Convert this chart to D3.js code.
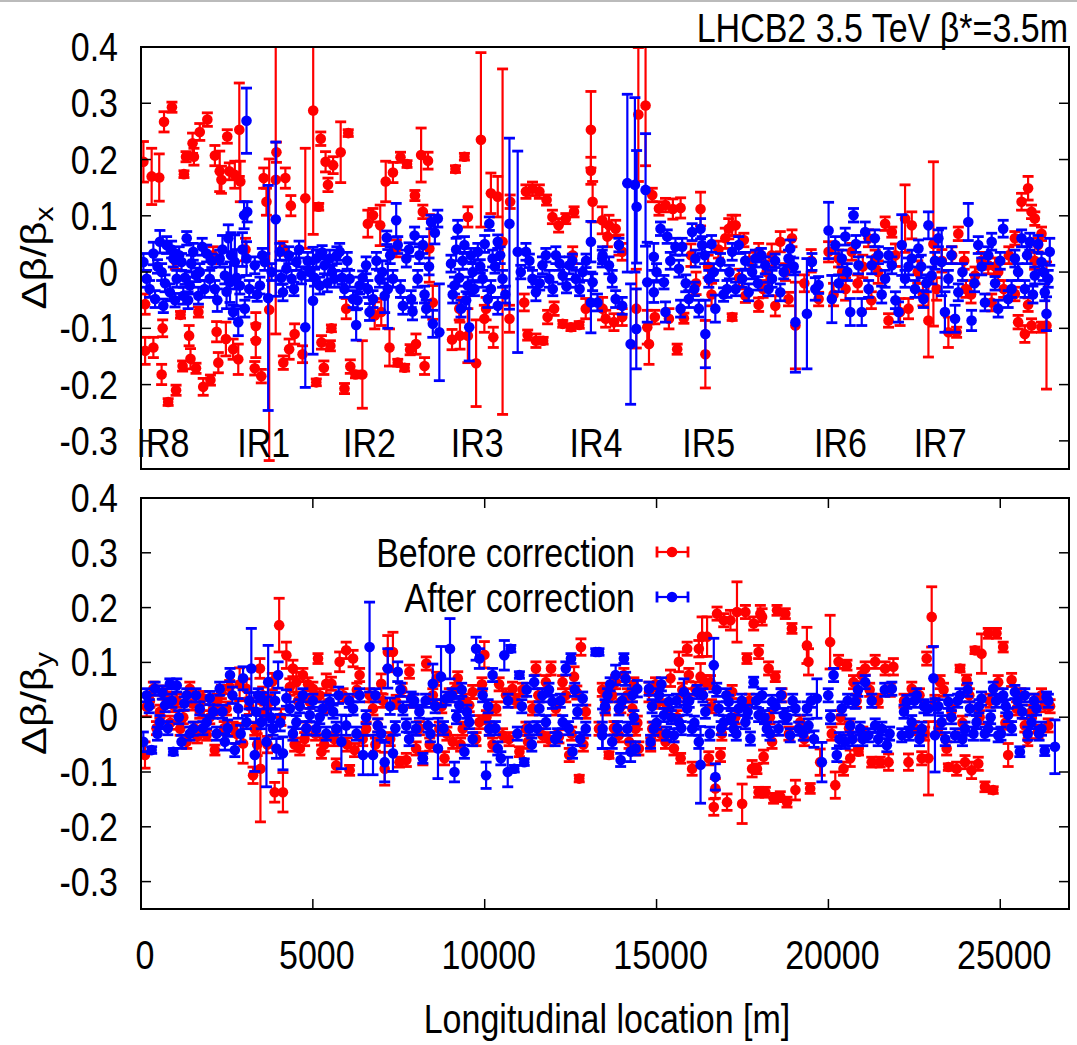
<!DOCTYPE html>
<html>
<head>
<meta charset="utf-8">
<script src="https://cdn.jsdelivr.net/npm/d3@7"></script>
<style>
  body { margin: 0; background: #fff; }
  text { font-family: "Liberation Sans", Arial, sans-serif; fill: #000; }
</style>
</head>
<body>
<svg id="chart" width="1077" height="1045"></svg>
<script>
// tick values and labels
const xTicks = [0, 5000, 10000, 15000, 20000, 25000];
const yTicks = [0.4, 0.3, 0.2, 0.1, 0, -0.1, -0.2, -0.3];
const irNames = ["IR8", "IR1", "IR2", "IR3", "IR4", "IR5", "IR6", "IR7"];
const irLocations = [640, 3570, 6650, 9780, 13240, 16520, 20350, 23250];
const seriesNames = ["Before correction", "After correction"];

// [s (m), delta beta / beta, error]  horizontal plane, before correction
const xBefore = [
  [70,0.196,0.036],[310,0.17,0.05],[530,0.168,0.042],[670,0.267,0.018],[900,0.293,0.009],
  [1250,0.174,0.006],[1310,0.205,0.009],[1500,0.229,0.018],[1540,0.205,0.015],[1710,0.249,0.015],
  [1930,0.271,0.012],[2150,0.207,0.018],[2290,0.179,0.036],[2340,0.164,0.024],[2510,0.241,0.012],
  [2570,0.179,0.015],[2730,0.173,0.024],[2860,0.253,0.083],[2890,0.161,0.036],[3570,0.167,0.018],
  [3650,0.125,0.024],[3940,0.213,0.018],[3920,0.164,0.274],[4200,0.167,0.018],[4360,0.118,0.018],
  [4780,0.131,0.089],[5010,0.287,0.22],[5170,0.116,0.006],[5230,0.237,0.012],[5370,0.196,0.018],
  [5440,0.155,0.012],[5590,0.19,0.015],[5810,0.213,0.054],[6030,0.247,0.006],[6600,0.086,0.024],
  [6750,0.101,0.012],[6960,0.083,0.036],[7120,0.161,0.036],[7330,0.177,0.018],[7550,0.204,0.009],
  [7740,0.192,0.006],[7970,0.136,0.009],[8150,0.208,0.048],[8200,0.107,0.012],[8350,0.198,0.015],
  [9150,0.183,0.006],[9410,0.205,0.006],[9510,0.098,0.018],[9890,0.235,0.155],[10180,0.14,0.036],
  [10380,0.134,0.036],[10740,0.125,0.012],[11200,0.143,0.012],[11390,0.148,0.012],[11590,0.143,0.012],
  [11800,0.128,0.009],[11970,0.098,0.012],[12150,0.083,0.012],[12360,0.095,0.009],[12600,0.107,0.009],
  [13090,0.253,0.068],[13090,0.18,0.024],[13140,0.125,0.036],
  [120,-0.057,0.018],[120,-0.14,0.024],[360,-0.134,0.018],[600,-0.182,0.018],[630,-0.1,0.015],
  [790,-0.231,0.006],[1020,-0.21,0.009],[1150,-0.076,0.006],[1210,-0.167,0.009],[1400,-0.113,0.018],
  [1440,-0.154,0.018],[1600,-0.171,0.009],[1670,-0.071,0.009],[1810,-0.204,0.015],[2020,-0.192,0.009],
  [2200,-0.106,0.018],[2250,-0.161,0.018],[2470,-0.119,0.03],[2680,-0.137,0.018],[2830,-0.155,0.027],
  [3310,-0.171,0.012],[3340,-0.096,0.024],[3340,-0.122,0.03],[3500,-0.185,0.012],[3730,-0.067,0.268],
  [4140,-0.161,0.012],[4310,-0.137,0.018],[4470,-0.11,0.018],[4700,-0.146,0.015],[5100,-0.196,0.006],
  [5250,-0.125,0.012],[5320,-0.17,0.012],[5510,-0.131,0.009],[5540,-0.1,0.006],[5920,-0.207,0.009],
  [6090,-0.168,0.012],[6240,-0.182,0.006],[6440,-0.182,0.06],[6800,-0.077,0.024],[6990,-0.071,0.024],
  [7230,-0.134,0.033],[7470,-0.161,0.006],[7670,-0.17,0.006],[7830,-0.138,0.009],[8000,-0.128,0.018],
  [8250,-0.167,0.015],[9050,-0.12,0.018],[9280,-0.113,0.024],[9510,-0.113,0.048],[9750,-0.162,0.077],
  [9990,-0.083,0.024],[10250,-0.116,0.018],[10520,0.054,0.307],[10720,-0.083,0.024],[11250,-0.112,0.009],
  [11490,-0.122,0.012],[11700,-0.122,0.006],[11830,-0.08,0.012],[12020,-0.065,0.012],[12270,-0.092,0.006],
  [12510,-0.098,0.006],[12750,-0.094,0.006],[12940,-0.065,0.018],
  [1000,0.02,0.015],[2100,0.03,0.015],[3040,0.04,0.02],[4130,0.042,0.012],[5970,-0.065,0.018],
  [7430,0.042,0.015],[8390,0.042,0.06],[8490,-0.054,0.03],[9260,-0.065,0.02],[10040,-0.065,0.02],
  [11150,-0.054,0.015],[12560,0.03,0.015],[13430,-0.065,0.02],
  [13420,0.092,0.024],[13520,-0.083,0.015],[13570,0.063,0.018],[13615,0.083,0.018],[13760,-0.089,0.015],
  [13810,0.077,0.015],[13905,0.048,0.018],[14000,0.036,0.015],[14000,-0.08,0.015],[14410,-0.065,0.07],
  [14470,0.28,0.119],[14680,0.296,0.107],[14730,-0.098,0.03],[14780,-0.128,0.036],[14875,0.137,0.012],
  [14950,-0.08,0.012],[15070,0.113,0.012],[15260,0.119,0.012],[15360,-0.083,0.018],[15475,0.112,0.018],
  [15600,-0.137,0.009],[15700,0.114,0.018],[15795,-0.082,0.009],[16000,0.03,0.02],[16280,0.112,0.03],
  [16420,-0.146,0.06],[16600,-0.04,0.02],[17000,0.06,0.018],[17100,0.077,0.018],[17200,0.083,0.018],
  [17200,-0.08,0.006],[17300,0.083,0.018],[17540,0.057,0.012],[17585,-0.042,0.012],[17970,0.036,0.015],
  [17970,-0.058,0.012],[18200,0.0,0.02],[18455,-0.06,0.018],[18600,0.054,0.018],[18840,-0.048,0.012],
  [18940,0.06,0.015],[19040,-0.095,0.077],[19300,-0.02,0.015],[19715,-0.048,0.012],[20005,0.036,0.018],
  [20295,0.024,0.015],[20500,-0.03,0.02],[20680,0.036,0.015],[21000,0.01,0.02],[21165,0.06,0.015],
  [21360,0.024,0.015],[21650,0.086,0.012],[21750,-0.086,0.012],[21845,0.071,0.009],[22085,-0.071,0.024],
  [22230,0.095,0.06],[22330,-0.065,0.018],[22425,0.083,0.024],[22910,-0.086,0.065],[23055,0.05,0.146],
  [23300,0.02,0.02],[23490,-0.107,0.027],[23730,-0.107,0.009],[23780,0.068,0.012],[24000,-0.03,0.015],
  [24265,-0.006,0.015],[24650,0.012,0.015],[24750,-0.054,0.015],[24940,0,0.015],[25425,0.06,0.012],
  [25425,-0.039,0.012],[25520,-0.089,0.012],[25620,0.125,0.015],[25715,-0.11,0.015],[25810,0.149,0.021],
  [25810,-0.058,0.012],[25910,0.107,0.012],[25910,-0.095,0.012],[26005,0.095,0.012],[26100,0.048,0.012],
  [26200,0.068,0.012],[26200,-0.098,0.009],[26345,-0.095,0.113],
  [16150,-0.02,0.02],[16500,0.01,0.02],[16800,0.04,0.015],[17400,-0.01,0.015],[17700,0.02,0.015],
  [18100,-0.03,0.015],[18350,0.03,0.02],[18750,0.0,0.015],[19500,0.02,0.02],[20150,-0.04,0.02],
  [20400,0.0,0.015],[20850,-0.02,0.015],[21250,-0.05,0.015],[21450,0.0,0.02],[21950,0.03,0.02],
  [22600,0.0,0.02],[22750,-0.04,0.02],[23150,-0.03,0.02],[23600,0.03,0.015],[23950,0.02,0.015],
  [24150,-0.04,0.015],[24450,0.02,0.015],[24850,0.01,0.015],[25100,-0.03,0.015],[25250,0.03,0.015],
  [26000,0.02,0.015]
];

// horizontal plane, after correction
const xAfter = [
  [70,0.018,0.015],[165,-0.012,0.015],[360,0.033,0.02],[410,-0.048,0.015],[550,0.054,0.02],
  [600,0,0.015],[650,-0.06,0.012],[745,0.048,0.015],[840,-0.036,0.015],[940,0.024,0.015],
  [1040,-0.012,0.015],[1180,0.018,0.015],[1230,-0.042,0.015],[1330,0.06,0.012],[1420,-0.024,0.015],
  [1520,0.036,0.015],[1670,-0.042,0.015],[1710,0,0.015],[1910,0.033,0.015],[2000,-0.012,0.015],
  [2150,-0.03,0.015],[2290,0.024,0.015],[2440,-0.006,0.015],[2540,0.06,0.024],[2590,-0.018,0.036],
  [2680,-0.071,0.012],[2730,0.018,0.048],[2830,-0.089,0.024],[2875,-0.024,0.015],[3000,0.101,0.024],
  [3020,-0.065,0.015],[3070,0.024,0.03],[3070,0.269,0.058],[3090,0.107,0.018],[3310,0.012,0.015],
  [3460,-0.024,0.015],[3600,0.018,0.015],[3700,-0.046,0.2],[3920,0.094,0.137],[4040,0.036,0.015],
  [4130,-0.036,0.015],[4230,0.006,0.015],[4380,-0.012,0.015],[4520,0.018,0.015],[4670,-0.006,0.015],
  [4780,-0.098,0.107],[4910,0,0.015],[5005,-0.051,0.095],[5100,0.024,0.015],[5200,-0.024,0.015],
  [5340,0.012,0.015],[5490,0.024,0.015],[5630,-0.012,0.015],[5780,0.036,0.015],[5920,-0.03,0.015],
  [6070,-0.012,0.015],[6170,-0.048,0.015],[6260,-0.094,0.027],[6360,-0.024,0.015],[6550,0.012,0.015],
  [6650,-0.071,0.015],[6750,-0.048,0.015],[6940,-0.012,0.015],[7090,-0.042,0.03],[7150,0.061,0.012],
  [7180,-0.03,0.07],[7330,-0.012,0.015],[7425,0.092,0.03],[7470,0.048,0.015],[7620,-0.06,0.015],
  [7720,0.024,0.015],[7860,-0.048,0.015],[7960,0.065,0.015],[8050,-0.012,0.015],[8200,0.048,0.015],
  [8300,-0.065,0.015],[8440,0.089,0.012],[8490,-0.092,0.024],[8635,0.095,0.015],[8680,-0.107,0.086],
  [9020,0.015,0.015],[9120,-0.024,0.015],[9215,0.077,0.015],[9310,-0.065,0.015],[9410,0.048,0.015],
  [9510,-0.024,0.015],[9550,-0.098,0.06],[9650,0,0.015],[9800,0.036,0.015],[9940,-0.012,0.015],
  [10090,-0.048,0.015],[10135,0.086,0.012],[10230,0.024,0.015],[10380,-0.06,0.015],[10380,0.054,0.012],
  [10520,-0.012,0.015],[10720,0.086,0.152],[10960,0.036,0.179],[11200,0.036,0.015],[11390,-0.012,0.015],
  [11490,-0.036,0.015],[11680,0.012,0.015],[11880,-0.012,0.015],[12070,0.03,0.015],[12270,-0.006,0.015],
  [12460,0.012,0.015],[12650,-0.012,0.015],[12850,0,0.015],[13090,0.054,0.036],[13090,-0.054,0.054],
  [13140,-0.018,0.015],[13280,-0.054,0.015],[13420,0.024,0.015],[13430,0.03,0.015],[13615,0.012,0.015],
  [13710,-0.012,0.015],[13810,-0.048,0.015],[13905,0.048,0.012],[14000,-0.06,0.015],[14150,0.158,0.158],
  [14245,-0.128,0.107],[14370,0.155,0.155],[14410,-0.101,0.071],[14420,0.116,0.1],[14680,0.146,0.1],
  [14730,-0.018,0.071],[14920,0.027,0.024],[14920,-0.036,0.018],[15115,0.077,0.012],[15215,-0.018,0.012],
  [15260,-0.071,0.018],[15310,0.063,0.012],[15550,0.045,0.015],[15650,0.006,0.015],[15700,-0.065,0.015],
  [15745,0.045,0.015],[15940,-0.048,0.015],[16035,0.071,0.015],[16130,0.024,0.015],[16230,-0.065,0.015],
  [16280,0.077,0.018],[16325,0.048,0.015],[16420,-0.11,0.06],[16520,-0.012,0.015],[16665,0,0.015],
  [16710,-0.065,0.024],[16860,0.018,0.015],[17050,-0.03,0.015],[17200,0.036,0.015],[17390,0.048,0.015],
  [17490,-0.012,0.015],[17680,-0.036,0.015],[17875,0.024,0.015],[18165,0.012,0.015],[18360,-0.012,0.015],
  [18600,-0.036,0.015],[18840,0.024,0.015],[18890,0.042,0.015],[19040,-0.089,0.089],[19375,-0.074,0.098],
  [19520,0.018,0.015],[19715,-0.023,0.015],[20005,0.074,0.05],[20100,-0.048,0.042],[20200,0.048,0.015],
  [20390,0.024,0.015],[20490,0.063,0.015],[20635,-0.071,0.024],[20730,0.101,0.012],[20875,0.012,0.015],
  [20970,-0.071,0.024],[21070,0.071,0.018],[21260,0.012,0.015],[21455,0.03,0.015],[21650,-0.012,0.015],
  [21845,0.012,0.015],[22040,-0.071,0.018],[22135,0.048,0.054],[22230,-0.012,0.015],[22425,0.024,0.015],
  [22620,0.042,0.015],[22765,-0.048,0.015],[22910,0.083,0.024],[23005,-0.006,0.015],[23200,0.06,0.015],
  [23295,0.018,0.06],[23390,-0.071,0.036],[23490,-0.012,0.015],[23685,-0.083,0.024],[23780,-0.036,0.015],
  [24070,0.089,0.033],[24165,-0.086,0.018],[24360,0.048,0.015],[24555,-0.054,0.015],[24750,0.054,0.015],
  [24940,-0.065,0.015],[25085,0.077,0.015],[25230,-0.048,0.015],[25425,0.024,0.015],[25620,0.06,0.015],
  [25715,-0.03,0.015],[25860,0.054,0.015],[26005,-0.006,0.015],[26200,0.018,0.015],[26295,-0.036,0.015],
  [26345,-0.074,0.03],[26395,-0.012,0.015],[26440,0.036,0.024],
  [250,-0.03,0.015],[480,0.01,0.012],[700,-0.02,0.015],[890,0.04,0.015],[990,-0.05,0.012],
  [1110,0.03,0.015],[1280,-0.01,0.012],[1370,-0.05,0.015],[1460,0.015,0.015],[1600,-0.005,0.012],
  [1780,0.045,0.015],[1850,-0.03,0.015],[2060,0.02,0.012],[2220,-0.05,0.02],[2370,0.04,0.025],
  [2490,-0.035,0.03],[2620,0.03,0.04],[2780,-0.01,0.05],[2950,0.04,0.03],[3150,-0.03,0.015],
  [3380,-0.04,0.012],[3530,0.03,0.012],[3800,0.0,0.015],[4080,-0.01,0.012],[4300,0.03,0.015],
  [4450,-0.03,0.012],[4600,0.04,0.015],[4850,0.02,0.015],[5050,-0.01,0.015],[5270,0.035,0.012],
  [5420,-0.02,0.015],[5560,0.0,0.012],[5700,0.03,0.015],[5850,-0.01,0.012],[6000,0.02,0.015],
  [6300,-0.05,0.015],[6450,-0.01,0.012],[6600,-0.03,0.015],[6850,0.02,0.015],[7020,0.0,0.02],
  [7250,0.03,0.015],[7550,-0.03,0.015],[7800,0.04,0.012],[7900,-0.07,0.015],[8100,0.03,0.015],
  [8250,-0.04,0.015],[8380,0.01,0.015],[8550,0.07,0.02],[9070,-0.04,0.015],[9170,0.04,0.02],
  [9260,-0.01,0.015],[9360,0.02,0.015],[9460,-0.05,0.015],[9600,0.03,0.012],[9700,-0.03,0.012],
  [9870,0.01,0.012],[10000,0.05,0.015],[10180,-0.03,0.015],[10300,0.01,0.012],[10450,0.03,0.015],
  [10600,-0.04,0.015],[11050,0.0,0.012],[11300,0.02,0.012],[11600,-0.02,0.012],[11780,0.03,0.012],
  [11980,-0.03,0.012],[12180,0.015,0.012],[12380,-0.025,0.012],[12550,0.02,0.012],[12760,-0.03,0.012],
  [12950,0.02,0.012],
  [15000,0.0,0.015],[15400,0.02,0.015],[15850,-0.02,0.015],[16100,-0.03,0.012],[16400,0.03,0.015],
  [16600,0.05,0.015],[16950,-0.04,0.012],[17120,0.0,0.012],[17300,-0.03,0.012],[17580,0.02,0.015],
  [17780,0.0,0.012],[17950,-0.02,0.012],[18050,0.03,0.012],[18260,-0.03,0.012],[18450,0.02,0.012],
  [18700,0.0,0.012],[18990,0.01,0.015],[19620,-0.03,0.02],[20300,-0.02,0.015],[20550,0.0,0.015],
  [20800,0.05,0.015],[21170,-0.03,0.015],[21350,0.06,0.015],[21550,-0.04,0.015],[21750,0.03,0.012],
  [21950,-0.05,0.015],[22330,0.01,0.015],[22520,-0.03,0.015],[22700,0.01,0.02],[22850,-0.02,0.015],
  [23100,0.02,0.015],[23580,0.03,0.015],[23900,0.0,0.015],[24250,-0.02,0.015],[24460,0.01,0.015],
  [24650,0.03,0.015],[24850,-0.02,0.012],[25000,0.02,0.015],[25330,-0.03,0.015],[25520,0.0,0.015],
  [25780,0.03,0.015],[25950,-0.04,0.015],[26100,0.05,0.015],[26250,0.0,0.015]
];

// vertical plane, before correction
const yBefore = [
  [116,-0.069,0.024],[165,0.019,0.018],[360,0.052,0.012],[550,0.01,0.012],[745,0.034,0.012],
  [940,0.022,0.012],[1140,-0.021,0.012],[1330,-0.045,0.012],[1420,0.052,0.012],[1570,-0.021,0.012],
  [1710,0.01,0.012],[1910,-0.033,0.009],[2100,0.016,0.012],[2150,-0.06,0.009],[2340,0.046,0.012],
  [2490,0.016,0.012],[2680,-0.021,0.012],[2780,-0.03,0.018],[2970,-0.048,0.036],[3070,0.052,0.018],
  [3260,-0.106,0.015],[3310,-0.021,0.012],[3460,0.089,0.018],[3475,-0.094,0.097],[3600,0.01,0.012],
  [3750,0.028,0.012],[3890,-0.137,0.018],[4020,0.168,0.049],[4130,-0.137,0.036],[4230,0.113,0.024],
  [4420,0.089,0.015],[4520,0.064,0.018],[4620,-0.057,0.012],[4710,0.077,0.012],[4810,-0.021,0.012],
  [4910,0.028,0.012],[5000,0.052,0.012],[5150,0.107,0.009],[5250,-0.063,0.012],[5390,0.061,0.018],
  [5540,0.061,0.012],[5680,-0.088,0.012],[5780,0.101,0.018],[5970,0.122,0.015],[6070,-0.097,0.009],
  [6170,0.107,0.015],[6215,-0.06,0.012],[6360,0.077,0.012],[6550,-0.021,0.012],[6750,0.016,0.012],
  [6890,-0.015,0.012],[6990,0.061,0.018],[7090,-0.094,0.03],[7180,0.119,0.03],[7330,0.119,0.036],
  [7425,0.028,0.012],[7520,-0.082,0.009],[7720,-0.078,0.012],[7810,0.083,0.012],[8005,-0.057,0.012],
  [8200,-0.075,0.012],[8300,0.098,0.012],[8490,0.04,0.012],[8680,-0.021,0.012],[8830,-0.075,0.012],
  [8970,0.04,0.012],[9070,-0.045,0.012],[9215,0.071,0.012],[9360,-0.021,0.012],[9550,0.022,0.012],
  [9650,0.046,0.012],[9845,-0.009,0.012],[9990,0.114,0.024],[10135,-0.021,0.012],[10330,0.016,0.012],
  [10520,-0.033,0.012],[10620,0.04,0.012],[10810,0.052,0.012],[11010,-0.063,0.009],[11200,-0.021,0.012],
  [11390,0.016,0.012],[11490,0.089,0.012],[11680,-0.033,0.012],[11780,0.064,0.012],[11930,0.089,0.012],
  [12070,0.016,0.012],[12265,0.064,0.012],[12460,-0.069,0.012],[12600,0.074,0.018],[12750,-0.112,0.006],
  [12800,0.128,0.015],[12940,0.01,0.012],
  [13325,-0.021,0.012],[13520,0.016,0.012],[13615,-0.069,0.006],[13710,0.04,0.012],[13810,0.064,0.012],
  [13905,-0.033,0.012],[14050,0.077,0.012],[14150,0.04,0.012],[14295,0.016,0.012],[14390,-0.021,0.012],
  [14485,-0.057,0.012],[14780,0.046,0.018],[14875,-0.021,0.012],[15070,0.028,0.012],[15260,-0.045,0.012],
  [15405,0.071,0.015],[15505,-0.057,0.012],[15650,0.101,0.018],[15700,-0.075,0.009],[15840,0.04,0.012],
  [15890,0.125,0.012],[15940,0.077,0.012],[16035,-0.094,0.012],[16130,0.052,0.012],[16230,0.125,0.015],
  [16280,0.074,0.024],[16325,0.147,0.036],[16420,0.064,0.012],[16470,0.147,0.036],[16520,-0.075,0.012],
  [16570,0.064,0.012],[16665,-0.164,0.015],[16710,-0.13,0.018],[16760,0.189,0.012],[16860,-0.069,0.012],
  [16955,0.177,0.012],[17050,-0.155,0.015],[17150,0.177,0.018],[17200,0.046,0.012],[17340,0.192,0.055],
  [17490,-0.158,0.036],[17585,0.192,0.012],[17630,0.107,0.009],[17780,-0.094,0.015],[17825,0.171,0.012],
  [17920,-0.094,0.009],[17970,0.119,0.012],[17970,-0.137,0.009],[18020,0.189,0.015],[18070,0.183,0.015],
  [18115,-0.072,0.012],[18165,-0.137,0.009],[18260,0.089,0.012],[18360,-0.045,0.012],[18405,-0.148,0.009],
  [18455,0.074,0.009],[18505,0.195,0.009],[18600,-0.145,0.009],[18745,0.189,0.009],[18795,-0.155,0.009],
  [18940,0.162,0.009],[19040,-0.133,0.018],[19180,-0.009,0.012],[19375,0.131,0.033],[19420,0.101,0.024],
  [19470,-0.13,0.009],[19760,-0.082,0.024],[20050,0.137,0.049],[20200,-0.124,0.024],[20295,0.101,0.012],
  [20440,-0.094,0.012],[20540,0.095,0.009],[20635,-0.075,0.015],[20730,0.064,0.012],[20875,-0.063,0.006],
  [20970,0.077,0.012],[21070,0.089,0.012],[21260,-0.082,0.009],[21360,0.101,0.012],[21505,-0.082,0.009],
  [21650,0.089,0.012],[21750,-0.082,0.015],[21890,0.092,0.015],[22330,-0.082,0.015],[22425,0.052,0.012],
  [22715,-0.075,0.012],[22860,0.107,0.012],[22910,-0.075,0.067],[23005,0.183,0.055],[23100,0.028,0.012],
  [23250,0.064,0.012],[23440,-0.057,0.012],[23490,-0.091,0.006],[23730,-0.094,0.012],[23830,0.089,0.006],
  [23975,-0.082,0.012],[24020,0.068,0.009],[24165,-0.097,0.015],[24265,0.122,0.006],[24360,-0.085,0.012],
  [24455,0.116,0.036],[24555,-0.127,0.009],[24650,0.153,0.009],[24795,-0.133,0.006],[24890,0.153,0.009],
  [24940,0.064,0.012],[25085,0.128,0.009],[25230,-0.069,0.021],[25330,0.068,0.012],[25475,0.016,0.012],
  [25715,-0.015,0.012],[25910,0.01,0.012],[26100,-0.027,0.012],[26295,0.022,0.012],[26395,-0.015,0.012],
  [260,0.03,0.012],[450,-0.02,0.012],[650,0.045,0.012],[850,-0.01,0.012],[1040,0.03,0.012],
  [1230,0.0,0.012],[1500,0.025,0.012],[1640,-0.035,0.012],[1800,0.035,0.012],[2000,0.0,0.012],
  [2220,0.03,0.012],[2420,-0.02,0.012],[2580,0.055,0.012],[2870,0.06,0.03],[3150,0.02,0.015],
  [3380,-0.05,0.02],[3540,0.04,0.015],[3680,-0.05,0.015],[3820,0.065,0.015],[4070,0.0,0.015],
  [4330,0.055,0.015],[4470,-0.05,0.012],[4570,0.03,0.012],[4760,-0.04,0.012],[4860,0.06,0.012],
  [5080,-0.03,0.012],[5200,0.04,0.012],[5330,-0.05,0.012],[5460,0.02,0.012],[5620,-0.04,0.012],
  [5880,0.04,0.012],[6000,-0.05,0.012],[6280,0.05,0.012],[6450,-0.04,0.012],[6650,0.04,0.012],
  [6820,-0.05,0.012],[7040,0.03,0.012],[7250,-0.04,0.012],[7600,0.05,0.012],[7920,0.03,0.012],
  [8100,-0.02,0.012],[8400,-0.05,0.012],[8600,0.07,0.012],[8750,0.02,0.012],[8900,-0.03,0.012],
  [9130,0.05,0.012],[9300,-0.05,0.012],[9450,0.03,0.012],[9750,-0.04,0.012],[9920,0.06,0.012],
  [10050,0.0,0.012],[10230,-0.05,0.012],[10420,0.06,0.012],[10710,-0.04,0.012],[10900,0.03,0.012],
  [11100,0.05,0.012],[11260,-0.045,0.012],[11560,0.04,0.012],[11860,-0.04,0.012],[12160,-0.035,0.012],
  [12360,0.04,0.012],[12530,-0.03,0.012],[12680,0.045,0.012],[12870,-0.05,0.012],
  [13420,0.05,0.012],[13760,-0.02,0.012],[13960,0.02,0.012],[14200,-0.045,0.012],[14340,0.06,0.012],
  [14440,-0.01,0.012],[14830,-0.05,0.012],[14970,0.06,0.012],[15120,-0.03,0.012],[15310,0.02,0.012],
  [15600,0.0,0.012],[15750,0.05,0.012],[16600,0.02,0.012],[16900,-0.03,0.012],[17290,0.0,0.012],
  [17700,0.03,0.012],[18300,0.0,0.012],[18650,0.04,0.012],[18850,-0.03,0.012],[19300,-0.04,0.012],
  [20100,-0.03,0.012],[20350,0.0,0.012],[20600,-0.02,0.012],[20820,0.03,0.012],[21000,-0.03,0.012],
  [21200,0.05,0.012],[21450,0.03,0.012],[21800,0.05,0.012],[22200,0.03,0.012],[22500,-0.02,0.012],
  [22650,0.04,0.012],[22800,-0.03,0.012],[23200,-0.02,0.012],[23350,0.05,0.012],[23580,0.01,0.012],
  [23900,-0.01,0.012],[24100,0.04,0.012],[24400,0.0,0.012],[24700,0.03,0.012],[25150,-0.01,0.012],
  [25600,0.04,0.012],[25800,-0.04,0.012],[26000,0.03,0.012],[26200,0.04,0.012],[26450,0.02,0.012]
];

// vertical plane, after correction
const yAfter = [
  [68,-0.045,0.018],[165,0.04,0.012],[310,-0.06,0.006],[410,0.052,0.012],[550,-0.009,0.012],
  [700,0.022,0.012],[840,0.061,0.009],[940,-0.063,0.006],[1040,0.058,0.012],[1180,-0.045,0.012],
  [1330,0.04,0.012],[1520,-0.021,0.012],[1710,0.016,0.012],[1910,-0.009,0.012],[2100,0.01,0.012],
  [2290,0.052,0.012],[2440,-0.045,0.015],[2590,0.077,0.012],[2730,-0.06,0.012],[2830,0.016,0.018],
  [2970,0.071,0.021],[3070,-0.009,0.012],[3210,0.089,0.073],[3310,-0.069,0.03],[3410,0.04,0.012],
  [3500,-0.009,0.012],[3650,-0.045,0.082],[3700,0.064,0.067],[3840,-0.021,0.012],[3940,-0.057,0.018],
  [3990,0.077,0.024],[4130,-0.066,0.03],[4330,0.016,0.012],[4520,-0.009,0.012],[4710,0.04,0.012],
  [4910,0.004,0.012],[5100,-0.021,0.012],[5290,0.016,0.012],[5490,0.028,0.012],[5680,-0.021,0.012],
  [5830,-0.045,0.049],[5970,-0.015,0.018],[6170,0.016,0.012],[6360,0.04,0.012],[6460,-0.069,0.036],
  [6650,0.128,0.082],[6750,-0.069,0.036],[6890,-0.015,0.012],[7090,-0.082,0.036],[7180,0.089,0.036],
  [7330,-0.066,0.033],[7470,0.083,0.018],[7620,0.016,0.012],[7720,-0.015,0.012],[7860,0.034,0.012],
  [8005,-0.021,0.012],[8200,-0.075,0.009],[8350,-0.015,0.012],[8490,0.061,0.036],[8640,-0.057,0.055],
  [8730,0.074,0.055],[8880,0.034,0.012],[8990,0.125,0.055],[9120,-0.1,0.018],[9260,0.022,0.012],
  [9410,-0.063,0.012],[9550,-0.009,0.012],[9750,0.125,0.021],[9845,0.107,0.018],[9940,0.04,0.012],
  [10040,-0.106,0.024],[10135,-0.021,0.012],[10230,0.077,0.012],[10380,-0.057,0.012],[10470,-0.075,0.012],
  [10570,0.113,0.027],[10670,-0.1,0.027],[10760,0.125,0.006],[10860,-0.094,0.006],[11010,0.077,0.006],
  [11150,-0.082,0.006],[11300,-0.021,0.012],[11440,0.064,0.012],[11590,0.016,0.012],[11780,-0.009,0.012],
  [11970,0.028,0.012],[12120,-0.033,0.012],[12270,-0.009,0.012],[12360,0.089,0.012],[12510,0.107,0.009],
  [12555,-0.063,0.012],[12700,0.01,0.012],[12850,0.034,0.012],[12940,-0.021,0.012],[13230,0.119,0.006],
  [13325,0.119,0.006],[13420,-0.033,0.024],[13430,-0.021,0.036],[13570,0.04,0.012],[13710,-0.045,0.012],
  [13810,0.077,0.018],[13905,0.016,0.012],[13955,-0.078,0.012],[14050,0.107,0.009],[14150,-0.021,0.012],
  [14245,-0.063,0.018],[14295,0.04,0.012],[14390,-0.057,0.012],[14440,0.052,0.015],[14780,0.052,0.012],
  [14825,-0.045,0.012],[14920,-0.021,0.012],[15070,0.04,0.012],[15215,0.004,0.012],[15360,0.028,0.012],
  [15505,-0.033,0.012],[15650,-0.009,0.012],[15795,0.046,0.024],[15890,0.016,0.012],[16035,-0.021,0.012],
  [16180,0.046,0.012],[16230,-0.045,0.012],[16280,-0.087,0.07],[16420,0.01,0.012],[16665,0.095,0.049],
  [16710,-0.109,0.024],[16810,0.016,0.012],[16955,-0.009,0.012],[17100,0.028,0.012],[17245,-0.021,0.012],
  [17390,0.016,0.012],[17585,-0.009,0.012],[17730,-0.039,0.012],[17825,0.064,0.009],[17970,0.004,0.012],
  [18070,0.04,0.012],[18210,-0.021,0.012],[18360,0.028,0.012],[18550,-0.021,0.012],[18700,0.004,0.012],
  [18890,-0.033,0.012],[19040,0.016,0.012],[19135,-0.021,0.012],[19375,0.016,0.012],[19420,-0.015,0.012],
  [19665,0.034,0.036],[19810,-0.082,0.036],[19995,0.04,0.012],[20150,0.077,0.012],[20245,-0.069,0.012],
  [20390,0.016,0.012],[20490,-0.045,0.012],[20635,-0.015,0.012],[20780,0.028,0.012],[20925,-0.021,0.012],
  [21070,0.064,0.012],[21165,-0.033,0.012],[21360,-0.015,0.012],[21555,-0.021,0.012],[21700,-0.051,0.012],
  [21845,0.052,0.012],[22135,-0.033,0.012],[22280,0.028,0.012],[22425,-0.009,0.012],[22570,0.04,0.012],
  [22715,-0.021,0.012],[22910,0.016,0.012],[23055,0.071,0.058],[23100,-0.033,0.067],[23295,-0.009,0.012],
  [23490,0.028,0.012],[23685,-0.033,0.012],[23830,0.04,0.012],[23975,-0.021,0.012],[24120,0.016,0.012],
  [24310,-0.009,0.012],[24455,0.034,0.012],[24650,-0.021,0.012],[24795,0.052,0.012],[24940,-0.033,0.012],
  [25085,0.04,0.012],[25230,0.004,0.012],[25425,0.046,0.012],[25570,-0.063,0.009],[25715,0.04,0.012],
  [25910,-0.009,0.012],[26055,0.016,0.012],[26200,-0.021,0.012],[26295,-0.061,0.009],[26345,0.037,0.009],
  [26590,-0.054,0.049],
  [240,0.02,0.012],[480,-0.03,0.012],[620,0.045,0.012],[780,-0.02,0.012],[900,0.03,0.012],
  [1100,0.0,0.012],[1260,0.025,0.012],[1420,-0.03,0.012],[1600,0.04,0.012],[1800,-0.02,0.012],
  [2000,0.035,0.012],[2200,-0.03,0.012],[2370,0.01,0.012],[2520,-0.02,0.015],[2660,0.04,0.015],
  [2900,-0.03,0.015],[3150,0.03,0.015],[3350,0.01,0.02],[3580,0.03,0.015],[3780,0.0,0.015],
  [3900,0.03,0.015],[4050,-0.01,0.015],[4230,0.035,0.015],[4420,-0.03,0.012],[4620,0.02,0.012],
  [4810,-0.02,0.012],[5000,0.03,0.012],[5200,0.0,0.012],[5390,-0.03,0.012],[5590,0.01,0.012],
  [5750,0.04,0.015],[6060,0.03,0.012],[6270,-0.03,0.012],[6550,0.0,0.012],[6820,0.04,0.012],
  [6990,-0.03,0.012],[7250,0.02,0.015],[7400,-0.02,0.012],[7550,0.05,0.012],[7800,-0.04,0.012],
  [7950,0.03,0.012],[8100,0.01,0.012],[8280,0.03,0.012],[8420,-0.03,0.015],[8560,0.02,0.012],
  [8800,-0.02,0.012],[9050,0.04,0.012],[9180,0.0,0.012],[9330,0.05,0.012],[9480,0.01,0.012],
  [9650,-0.04,0.012],[10100,0.02,0.012],[10310,-0.02,0.012],[10680,0.03,0.012],[10950,-0.03,0.012],
  [11080,0.02,0.012],[11220,0.05,0.012],[11370,-0.05,0.012],[11520,-0.02,0.012],[11680,0.04,0.012],
  [11870,0.05,0.012],[12050,-0.04,0.012],[12200,0.03,0.012],[12440,-0.02,0.012],[12620,0.05,0.012],
  [12780,-0.04,0.012],
  [13500,0.02,0.012],[13650,0.06,0.012],[13860,-0.02,0.012],[14000,0.03,0.012],[14100,0.07,0.012],
  [14340,0.0,0.012],[14870,0.02,0.012],[15000,-0.01,0.012],[15140,0.06,0.012],[15290,-0.03,0.012],
  [15430,0.0,0.012],[15580,0.03,0.012],[15720,-0.02,0.012],[15950,0.03,0.012],[16100,-0.01,0.012],
  [16350,0.04,0.012],[16550,-0.03,0.012],[16750,0.05,0.012],[16880,-0.02,0.012],[17030,0.04,0.012],
  [17170,0.0,0.012],[17320,-0.03,0.012],[17480,0.03,0.012],[17650,0.01,0.012],[17900,0.03,0.012],
  [18140,0.0,0.012],[18300,-0.03,0.012],[18460,0.02,0.012],[18620,0.04,0.012],[18800,0.0,0.012],
  [18960,0.03,0.012],[19270,-0.03,0.012],[19500,0.03,0.012],[19580,-0.04,0.015],[20060,0.0,0.012],
  [20320,-0.04,0.012],[20560,0.03,0.012],[20700,-0.04,0.012],[20860,0.05,0.012],[21000,-0.04,0.012],
  [21260,0.03,0.012],[21450,-0.04,0.012],[21640,0.05,0.012],[21780,-0.03,0.012],[22200,0.01,0.012],
  [22350,-0.03,0.012],[22500,0.03,0.012],[22650,-0.04,0.012],[22780,0.02,0.012],[23200,0.02,0.012],
  [23400,-0.04,0.012],[23580,0.0,0.012],[23760,0.03,0.012],[23900,-0.04,0.012],[24050,0.05,0.012],
  [24220,-0.03,0.012],[24380,0.02,0.012],[24550,-0.03,0.012],[24720,0.0,0.012],[24880,0.03,0.012],
  [25020,-0.03,0.012],[25160,0.02,0.012],[25330,-0.02,0.012],[25500,0.03,0.012],[25640,0.01,0.012],
  [25800,-0.03,0.012],[25980,0.03,0.012],[26130,-0.03,0.012],[26400,0.03,0.012]
];

const colors = ["#ff0000", "#0000ff"];
const svg = d3.select("#chart");
const squeeze = 0.85;
const fontSize = 40;

const left = 141, right = 1069;
const x = d3.scaleLinear().domain([0, 27000]).range([left, right]);

// thin grey line along the top of the picture
svg.append("line").attr("x1", 0).attr("x2", 1077).attr("y1", 1).attr("y2", 1)
  .attr("stroke", "#bbb").attr("stroke-width", 2);

function squeezedText(g, px, py, str, anchor) {
  return g.append("text")
    .attr("transform", `translate(${px},${py}) scale(${squeeze},1)`)
    .attr("text-anchor", anchor)
    .style("font-size", fontSize + "px")
    .text(str);
}

function drawPanel(top, bottom, before, after, sub, id, showXTicks) {
  const y = d3.scaleLinear().domain([-0.35, 0.4]).range([bottom, top]);
  const g = svg.append("g");

  g.append("clipPath").attr("id", id).append("rect")
    .attr("x", left).attr("y", top).attr("width", right - left).attr("height", bottom - top);

  const plot = g.append("g").attr("clip-path", `url(#${id})`);
  [before, after].forEach((data, i) => {
    const s = plot.append("g").attr("stroke", colors[i]).attr("fill", colors[i]);
    const bars = s.selectAll("g.bar").data(data).enter().append("g").attr("class", "bar");
    bars.append("line")
      .attr("x1", d => x(d[0])).attr("x2", d => x(d[0]))
      .attr("y1", d => y(d[1] - d[2])).attr("y2", d => y(d[1] + d[2]))
      .attr("stroke-width", 2.2);
    [1, -1].forEach(sign => {
      bars.append("line")
        .attr("x1", d => x(d[0]) - 5.5).attr("x2", d => x(d[0]) + 5.5)
        .attr("y1", d => y(d[1] + sign * d[2])).attr("y2", d => y(d[1] + sign * d[2]))
        .attr("stroke-width", 2.8);
    });
    bars.append("circle")
      .attr("cx", d => x(d[0])).attr("cy", d => y(d[1])).attr("r", 5.3)
      .attr("stroke", "none");
  });

  // frame
  g.append("rect").attr("x", left).attr("y", top)
    .attr("width", right - left).attr("height", bottom - top)
    .attr("fill", "none").attr("stroke", "#000").attr("stroke-width", 2);

  // y ticks on both sides, pointing inward
  yTicks.forEach(v => {
    g.append("line").attr("x1", left).attr("x2", left + 10)
      .attr("y1", y(v)).attr("y2", y(v)).attr("stroke", "#000").attr("stroke-width", 1.5);
    g.append("line").attr("x1", right - 10).attr("x2", right)
      .attr("y1", y(v)).attr("y2", y(v)).attr("stroke", "#000").attr("stroke-width", 1.5);
    squeezedText(g, 118, y(v) + 14, String(v), "end");
  });

  if (showXTicks) {
    xTicks.forEach(v => {
      g.append("line").attr("x1", x(v)).attr("x2", x(v))
        .attr("y1", bottom).attr("y2", bottom - 10).attr("stroke", "#000").attr("stroke-width", 1.5);
      g.append("line").attr("x1", x(v)).attr("x2", x(v))
        .attr("y1", top).attr("y2", top + 10).attr("stroke", "#000").attr("stroke-width", 1.5);
      squeezedText(g, x(v) + 4, bottom + 60, String(v), "middle");
    });
  }

  // y axis title
  const t = g.append("text")
    .attr("transform", `translate(46,${(top + bottom) / 2}) scale(${squeeze},1) rotate(-90)`)
    .attr("text-anchor", "middle")
    .style("font-size", "42px");
  t.append("tspan").text("Δβ/β");
  t.append("tspan").attr("dy", 8).style("font-size", "30px").text(sub);
  return y;
}

drawPanel(47, 469, xBefore, xAfter, "x", "clipTop", false);
drawPanel(498, 909, yBefore, yAfter, "y", "clipBottom", true);

// IR labels
const irLayer = svg.append("g");
irNames.forEach((name, i) => {
  squeezedText(irLayer, x(irLocations[i]), 457, name, "middle");
});

// title
squeezedText(svg, 1068, 42, "LHCB2 3.5 TeV β*=3.5m", "end");

// x axis title
squeezedText(svg, 607, 1033, "Longitudinal location [m]", "middle");

// legend
const legend = svg.append("g");
seriesNames.forEach((name, i) => {
  const ly = 552 + i * 45;
  squeezedText(legend, 635, ly + 15, name, "end");
  const k = legend.append("g").attr("stroke", colors[i]).attr("fill", colors[i]);
  k.append("line").attr("x1", 657).attr("x2", 688).attr("y1", ly).attr("y2", ly).attr("stroke-width", 2.2);
  k.append("line").attr("x1", 657).attr("x2", 657).attr("y1", ly - 5.5).attr("y2", ly + 5.5).attr("stroke-width", 2.8);
  k.append("line").attr("x1", 688).attr("x2", 688).attr("y1", ly - 5.5).attr("y2", ly + 5.5).attr("stroke-width", 2.8);
  k.append("circle").attr("cx", 672).attr("cy", ly).attr("r", 5.3).attr("stroke", "none");
});
</script>
</body>
</html>
